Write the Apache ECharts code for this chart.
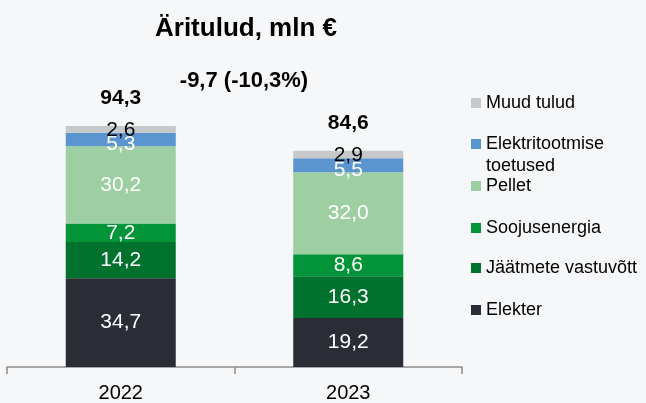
<!DOCTYPE html>
<html>
<head>
<meta charset="utf-8">
<script src="https://cdn.jsdelivr.net/npm/echarts@6/dist/echarts.min.js"></script>
<style>
  html, body { margin: 0; padding: 0; background: #f6f7f9; }
  #chart { width: 646px; height: 403px; }
</style>
</head>
<body>
<div id="chart"></div>
<script>
// Revenue breakdown, mln €
const years = ['2022', '2023'];
const elekter = [34.7, 19.2];
const jaatmed = [14.2, 16.3];
const soojus = [7.2, 8.6];
const pellet = [30.2, 32.0];
const toetused = [5.3, 5.5];
const muud = [2.6, 2.9];
const totals = [94.3, 84.6];
const changeText = '-9,7 (-10,3%)';

const FONT = '"Liberation Sans", Arial, sans-serif';
const fmt = v => v.toFixed(1).replace('.', ',');

const seriesDefs = [
  { name: 'Elekter', data: elekter, color: '#2b2d36', text: '#ffffff', offset: [0, 0] },
  { name: 'Jäätmete vastuvõtt', data: jaatmed, color: '#00722e', text: '#ffffff', offset: [0, 0] },
  { name: 'Soojusenergia', data: soojus, color: '#019438', text: '#ffffff', offset: [0, 0] },
  { name: 'Pellet', data: pellet, color: '#9ecfa2', text: '#ffffff', offset: [0, 0] },
  { name: 'Elektritootmise toetused', data: toetused, color: '#5a95cf', text: '#ffffff', offset: [0, 5] },
  { name: 'Muud tulud', data: muud, color: '#c5c9ca', text: '#000000', offset: [0, 1] }
];

const barSeries = seriesDefs.map(d => ({
  name: d.name,
  type: 'bar',
  stack: 'total',
  barWidth: 110,
  data: d.data,
  itemStyle: { color: d.color },
  label: {
    show: true,
    position: 'inside',
    offset: d.offset,
    color: d.text,
    fontFamily: FONT,
    fontSize: 21,
    formatter: p => fmt(p.value)
  },
  emphasis: { disabled: true }
}));

// Invisible points carrying the bold total above each stack
const totalSeries = {
  name: 'Kokku',
  type: 'scatter',
  data: totals,
  symbolSize: 0,
  z: 10,
  itemStyle: { color: 'transparent', opacity: 1 },
  label: {
    show: true,
    position: 'top',
    distance: 17,
    color: '#000000',
    fontFamily: FONT,
    fontWeight: 'bold',
    fontSize: 21,
    formatter: p => fmt(p.value)
  },
  emphasis: { disabled: true }
};

// One legend block per entry so each sits at its own height
const legendRows = [
  { name: 'Muud tulud', mid: 103, label: 'Muud tulud' },
  { name: 'Elektritootmise toetused', mid: 144, label: 'Elektritootmise' },
  { name: 'Pellet', mid: 186, label: 'Pellet' },
  { name: 'Soojusenergia', mid: 228, label: 'Soojusenergia' },
  { name: 'Jäätmete vastuvõtt', mid: 268, label: 'Jäätmete vastuvõtt' },
  { name: 'Elekter', mid: 310, label: 'Elekter' }
];

const legends = legendRows.map(r => ({
  data: [r.name],
  left: 471,
  top: r.mid - 9,
  icon: 'rect',
  itemWidth: 10,
  itemHeight: 10,
  itemGap: 0,
  padding: 0,
  selectedMode: false,
  formatter: () => r.label,
  textStyle: { fontFamily: FONT, fontSize: 18, color: '#000000' }
}));

const chart = echarts.init(document.getElementById('chart'), null, { renderer: 'canvas' });
chart.setOption({
  backgroundColor: '#f6f7f9',
  animation: false,
  title: [
    {
      text: 'Äritulud, mln €',
      left: 246, top: 16, padding: 0, textAlign: 'center',
      textStyle: { fontFamily: FONT, fontWeight: 'bold', fontSize: 26, color: '#000000' }
    },
    {
      text: changeText,
      left: 244, top: 70, padding: 0, textAlign: 'center',
      textStyle: { fontFamily: FONT, fontWeight: 'bold', fontSize: 22, color: '#000000' }
    }
  ],
  legend: legends,
  graphic: [
    {
      type: 'text', left: 486, top: 157,
      style: { text: 'toetused', font: '18px ' + FONT, fill: '#000000' }
    }
  ],
  grid: { left: 7, right: 184, top: 111.2, bottom: 35, containLabel: false },
  xAxis: {
    type: 'category',
    data: years,
    axisLine: { lineStyle: { color: '#8c8c8c', width: 1.5 } },
    axisTick: { show: true, length: 7, lineStyle: { color: '#8c8c8c', width: 1.5 } },
    axisLabel: { fontFamily: FONT, fontSize: 20, color: '#000000', margin: 16 }
  },
  yAxis: { type: 'value', min: 0, max: 100, show: false, splitLine: { show: false } },
  series: [...barSeries, totalSeries]
});
</script>
</body>
</html>
